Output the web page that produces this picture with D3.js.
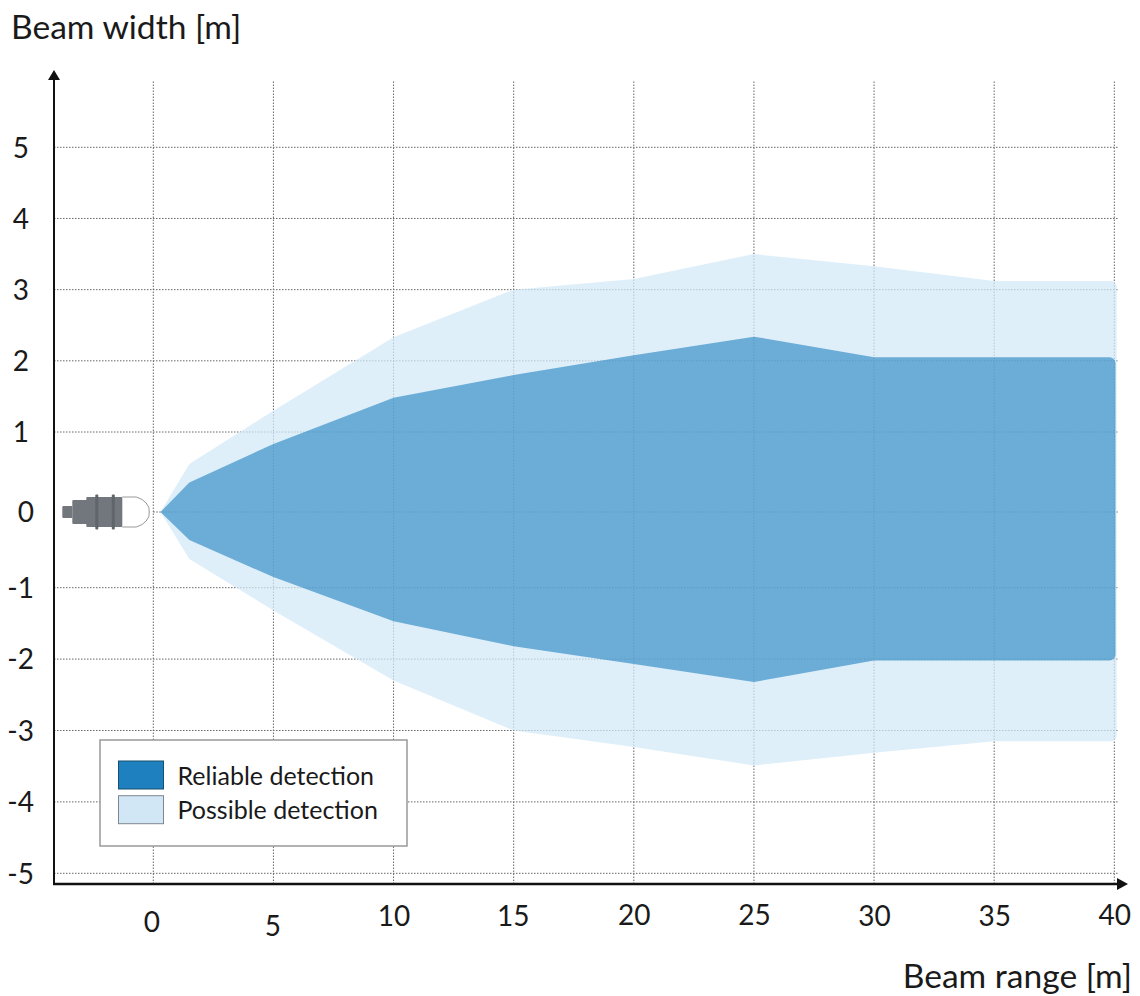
<!DOCTYPE html>
<html lang="en">
<head>
<meta charset="UTF-8">
<title>Beam pattern</title>
<script src="https://d3js.org/d3.v7.min.js"></script>
<style>
    html, body { margin: 0; background: white; }
    svg { display: block; }
    text { font-family: Lato, sans-serif; fill: #1a1a1a; }
    .tick text { font-size: 28px; }
    .grid line { stroke: #666; stroke-width: 1px; stroke-dasharray: 1.5 1.5; }
    .grid path, .labels path, .labels line { display: none; }
    .axis-title { font-size: 33.6px; }
    .legend text { font-size: 25px; }
</style>
</head>
<body>
<script>
// values (metres)
const xTicks = [0, 5, 10, 15, 20, 25, 30, 35, 40]
const yTicks = [5, 4, 3, 2, 1, 0, -1, -2, -3, -4, -5]

const possibleRange = [0.3, 1.5, 5, 10, 15, 20, 25, 30, 35, 40.1]
const possibleUpper = [0, 0.6, 1.3, 2.33, 3.0, 3.15, 3.5, 3.33, 3.12, 3.12]
const possibleLower = [0, -0.62, -1.32, -2.3, -3.0, -3.23, -3.49, -3.31, -3.15, -3.15]

const reliableRange = [0.3, 1.5, 5, 10, 15, 20, 25, 30, 40.05]
const reliableUpper = [0, 0.37, 0.85, 1.48, 1.8, 2.08, 2.34, 2.05, 2.05]
const reliableLower = [0, -0.37, -0.86, -1.47, -1.82, -2.07, -2.32, -2.02, -2.02]

const legendLabels = ["Reliable detection", "Possible detection"]

const width = 1140, height = 996

const svg = d3.select("body").append("svg")
    .attr("width", width)
    .attr("height", height)

const xScale = d3.scaleLinear().domain([0, 40]).range([153.3, 1114.3])
// the picture's zero line sits a little off the even spacing, so the scale has knots around it
const yScale = d3.scaleLinear()
    .domain([5, 1, 0, -1, -5])
    .range([147.3, 432, 512, 587.7, 873.3])

const plotLeft = 54, plotRight = 1118, plotBottom = 884, plotTop = 81

//grid
const xGrid = svg.append("g").attr("class", "grid")
    .attr("transform", `translate(0, ${plotBottom})`)
    .call(d3.axisBottom(xScale).offset(0).tickValues(xTicks).tickSize(plotTop - plotBottom).tickFormat(""))

const yGrid = svg.append("g").attr("class", "grid")
    .attr("transform", `translate(${plotLeft}, 0)`)
    .call(d3.axisLeft(yScale).offset(0).tickValues(yTicks).tickSize(plotLeft - plotRight).tickFormat(""))

// zero line only starts at the sensor face
yGrid.selectAll(".tick").filter(d => d === 0).select("line")
    .attr("x1", xScale(0) - plotLeft)

// outline with rounded corners on the far end
function beamPath(range, upper, lower, radius) {
    const top = range.map((r, i) => [xScale(r), yScale(upper[i])])
    const bottom = range.map((r, i) => [xScale(r), yScale(lower[i])]).reverse()
    const pts = top.concat(bottom.slice(0, -1))
    const p = d3.path()
    const far = xScale(range[range.length - 1])
    p.moveTo(pts[0][0], pts[0][1])
    pts.forEach((pt, i) => {
        if (i === 0) return
        const next = pts[i + 1]
        if (pt[0] === far && next) p.arcTo(pt[0], pt[1], next[0], next[1], radius)
        else p.lineTo(pt[0], pt[1])
    })
    p.closePath()
    return p.toString()
}

svg.append("path")
    .attr("d", beamPath(possibleRange, possibleUpper, possibleLower, 6))
    .attr("fill", "#d2e9f8")
    .attr("fill-opacity", 0.73)

svg.append("path")
    .attr("d", beamPath(reliableRange, reliableUpper, reliableLower, 6))
    .attr("fill", "#1f80bf")
    .attr("fill-opacity", 0.6)

//sensor icon
const sensor = svg.append("g").attr("transform", `translate(${xScale(0)}, ${yScale(0)})`)
sensor.append("path")
    .attr("d", "M-31,-15 H-17 A21,15 0 0 1 -4,0 A21,15 0 0 1 -17,15 H-31")
    .attr("fill", "white")
    .attr("stroke", "#999")
    .attr("stroke-width", 1)
sensor.selectAll("rect.part")
    .data([[-91, -6, 10, 12], [-81, -12, 15, 24], [-67, -15, 36, 30], [-58, -17.5, 3, 35], [-41.5, -17.5, 3, 35]])
    .enter()
    .append("rect")
    .attr("class", "part")
    .attr("x", d => d[0]).attr("y", d => d[1])
    .attr("width", d => d[2]).attr("height", d => d[3])
    .attr("rx", 1)
    .attr("fill", d => d[3] === 35 ? "#5f656b" : "#71777d")

//tick labels
const xLabelNudge = [-2, -1, 0, -1, 0, 0, 0, 0, 0]
const xLabelDrop = [41, 45, 35, 35, 34, 34, 35, 35, 34]

const xLabels = svg.append("g").attr("class", "labels")
    .attr("transform", `translate(0, ${plotBottom})`)
    .call(d3.axisBottom(xScale).tickValues(xTicks).tickSize(0).tickFormat(d => d))
xLabels.selectAll("text")
    .attr("dy", null)
    .attr("y", (d, i) => xLabelDrop[i])
    .attr("x", (d, i) => xLabelNudge[i])
    .attr("dominant-baseline", "middle")

const yLabels = svg.append("g").attr("class", "labels")
    .attr("transform", "translate(34, 0)")
    .call(d3.axisLeft(yScale).tickValues(yTicks).tickSize(0).tickPadding(0).tickFormat(d => d))
yLabels.selectAll("text")
    .attr("dy", "0.35em")
    .attr("x", d => d > 0 ? -5 : 0)

//axes with arrows
const axisColor = "#111"
svg.append("line")
    .attr("x1", plotLeft).attr("x2", plotLeft)
    .attr("y1", plotBottom + 1).attr("y2", 76)
    .attr("stroke", axisColor).attr("stroke-width", 2)
svg.append("path")
    .attr("d", `M${plotLeft},70 l6,10 h-12 z`)
    .attr("fill", axisColor)
svg.append("line")
    .attr("x1", plotLeft - 1).attr("x2", 1120)
    .attr("y1", plotBottom).attr("y2", plotBottom)
    .attr("stroke", axisColor).attr("stroke-width", 2.5)
svg.append("path")
    .attr("d", `M1128,${plotBottom} l-11,-6 v12 z`)
    .attr("fill", axisColor)

svg.append("text").attr("class", "axis-title")
    .attr("x", 11).attr("y", 39)
    .text("Beam width [m]")
svg.append("text").attr("class", "axis-title")
    .attr("x", 1132).attr("y", 988)
    .attr("text-anchor", "end")
    .text("Beam range [m]")

//legend
const legend = svg.append("g").attr("class", "legend")
    .attr("transform", "translate(100, 740)")
legend.append("rect")
    .attr("width", 307).attr("height", 106)
    .attr("fill", "white")
    .attr("stroke", "#999").attr("stroke-width", 1.5)

const legendFill = ["#1f80bf", "#d2e7f6"]
const legendEdge = ["#14506f", "#7d8790"]
const legendRows = legend.selectAll("g.row")
    .data(legendLabels)
    .enter()
    .append("g")
    .attr("class", "row")
    .attr("transform", (d, i) => `translate(0, ${21 + i * 34.7})`)
legendRows.append("rect")
    .attr("x", 18.5)
    .attr("width", 45).attr("height", 28)
    .attr("fill", (d, i) => legendFill[i])
    .attr("stroke", (d, i) => legendEdge[i])
    .attr("stroke-width", 1)
legendRows.append("text")
    .attr("x", 77.5).attr("y", 23.5)
    .text(d => d)
</script>
</body>
</html>
